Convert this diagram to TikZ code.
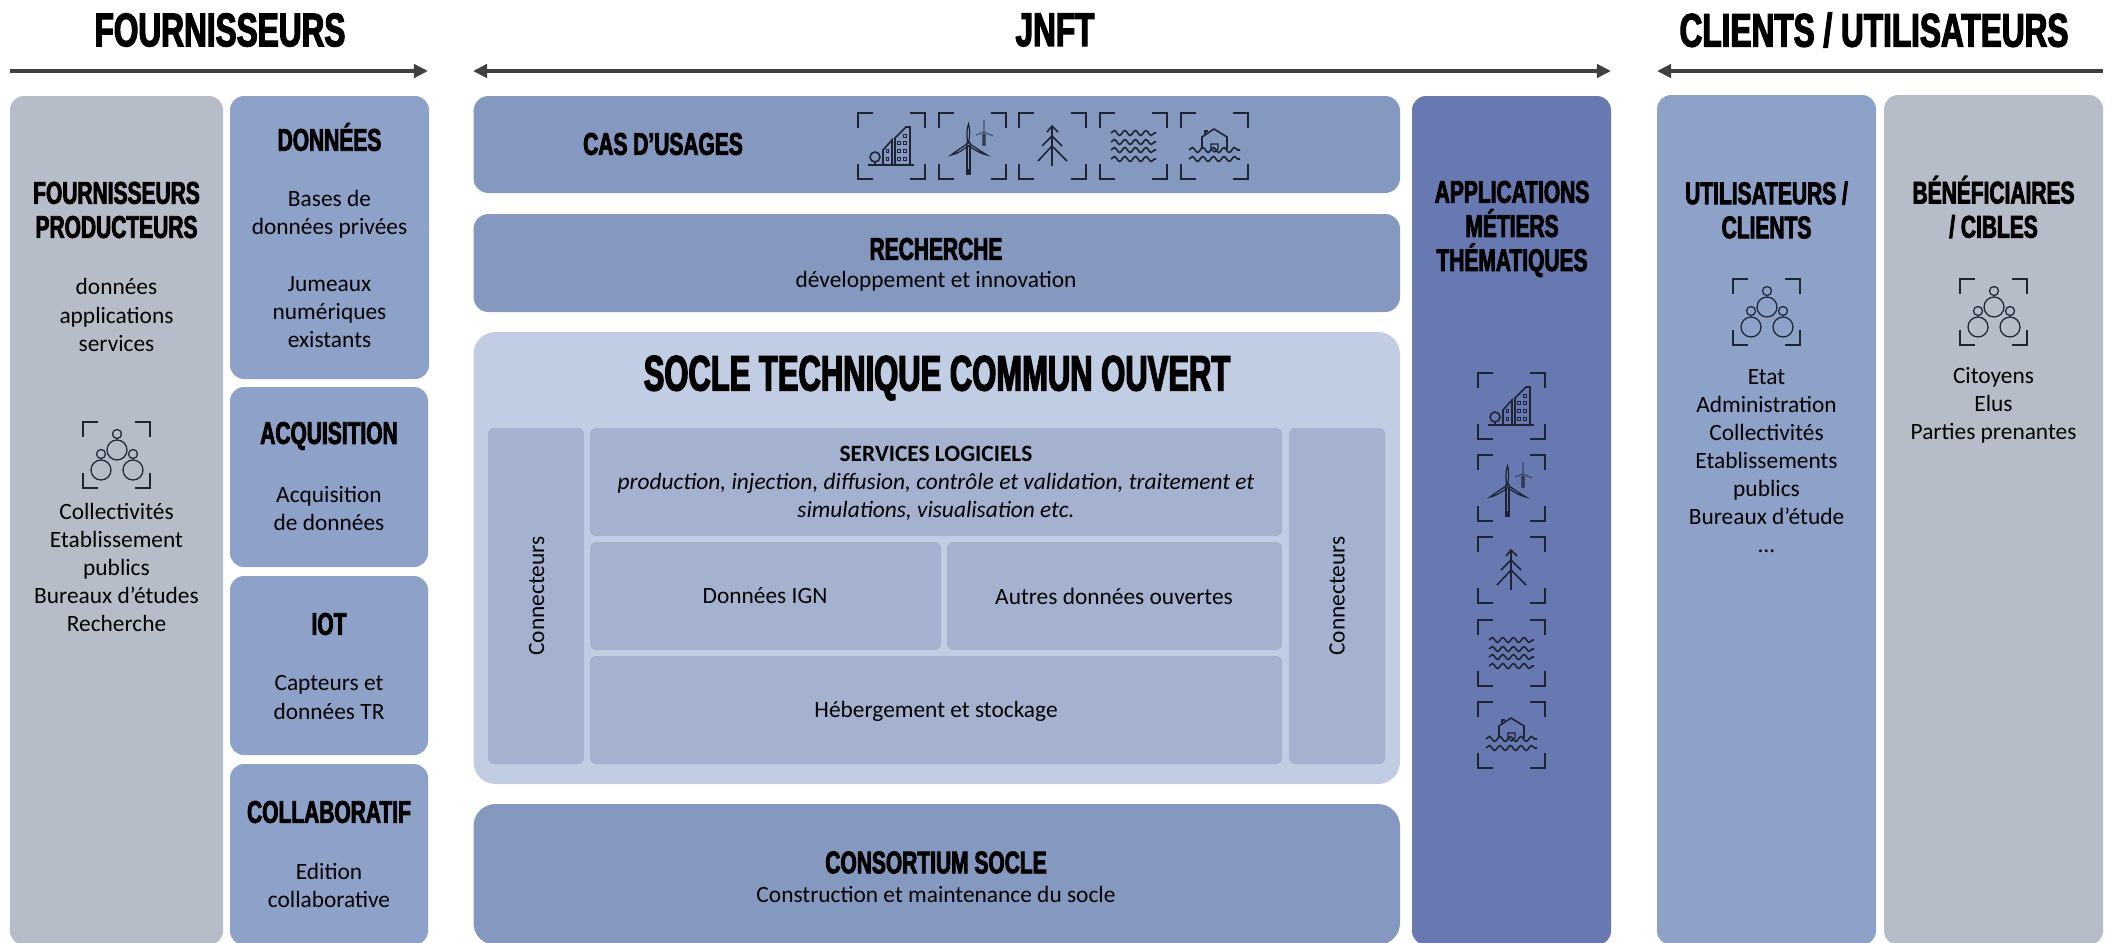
\documentclass[tikz,border=0pt]{standalone}
\usepackage{fontspec}
\setmainfont{Carlito}
\newfontfamily\headfont{Liberation Sans}[FakeStretch=0.67,BoldFeatures={FakeBold=2.6}]
\newfontfamily\titlefont{Liberation Sans}[FakeStretch=0.62,BoldFeatures={FakeBold=2.6}]
\usetikzlibrary{arrows.meta}
\usetikzlibrary{decorations.pathmorphing}

\definecolor{greypanel}{HTML}{B6BDC9}
\definecolor{bluepanel}{HTML}{8EA2C9}
\definecolor{midpanel}{HTML}{8598BF}
\definecolor{soclepanel}{HTML}{C1CDE2}
\definecolor{innerpanel}{HTML}{A4B2D0}
\definecolor{apppanel}{HTML}{6879B2}
\definecolor{inkline}{HTML}{1E2433}

\tikzset{
	bigpanel/.style = {rounded corners=0.14cm},
	smallpanel/.style = {rounded corners=0.06cm, fill=innerpanel},
	bighead/.style = {font=\headfont\bfseries\fontsize{13.4}{15}\selectfont, inner sep=0pt},
	midhead/.style = {font=\headfont\bfseries\fontsize{8.9}{9.7}\selectfont, align=center, inner sep=0pt},
	body/.style = {font=\fontsize{6.65}{8}\selectfont, align=center, inner sep=0pt},
	arrowline/.style = {draw=black!75, line width=1pt},
	arrowtip/.style = {-{Triangle[length=4pt,width=3.8pt]}},
	icon/.style = {draw=inkline, line width=0.35pt},
	waverow/.style = {decorate, decoration={snake, segment length=3pt, amplitude=0.7pt}},
	pics/framebox/.style = {code = {
		\draw[icon, line width=0.45pt] (15,0) -- (0,0) -- (0,15);
		\draw[icon, line width=0.45pt] (52,0) -- (67,0) -- (67,15);
		\draw[icon, line width=0.45pt] (0,51) -- (0,66) -- (15,66);
		\draw[icon, line width=0.45pt] (67,51) -- (67,66) -- (52,66);
	}},
	pics/people/.style = {code = {
		\pic {framebox};
		\draw[icon] (34,28) circle (10) (34,12) circle (4.5);
		\draw[icon] (18,48) circle (10) (18,32) circle (4.5);
		\draw[icon] (50,48) circle (10) (50,32) circle (4.5);
	}},
	pics/building/.style = {code = {
		\pic {framebox};
		\draw[icon, line width=0.45pt] (10,52) -- (56,52);
		\draw[icon, line width=0.45pt] (17,44) circle (5) (17,49) -- (17,52);
		\draw[icon, line width=0.45pt] (25,52) -- (25,37) -- (34,27) -- (34,52);
		\draw[icon, line width=0.45pt] (37,52) -- (37,25) -- (48,14) -- (52,14) -- (52,52);
		\foreach \wx/\wy in {29.5/38, 29.5/46, 41/30, 47/23, 47/30, 41/38, 47/38, 41/46, 47/46}
			\draw[icon, line width=0.3pt] (\wx-1.3,\wy-1.3) rectangle (\wx+1.3,\wy+1.3);
	}},
	pics/turbine/.style = {code = {
		\pic {framebox};
		\draw[icon] (28,33) -- (28,60) -- (31,60) -- (31,33);
		\draw[icon, fill=inkline] (28,57) rectangle (31,61);
		\draw[icon] (29,31) .. controls (27,22) and (28,15) .. (29.5,11) .. controls (31,15) and (31,22) .. (29.5,31);
		\draw[icon] (28,31) .. controls (22,35) and (16,39) .. (12,42) .. controls (18,41) and (24,37) .. (29,33);
		\draw[icon] (31,31) .. controls (37,35) and (43,39) .. (48,42) .. controls (42,41) and (36,37) .. (30,33);
		\draw[icon] (29.5,31) circle (2);
		\draw[icon, opacity=0.6] (45,7) -- (45,32) (37,22) -- (45,19) -- (54,23);
		\draw[icon, opacity=0.6] (44,21) -- (44,32) -- (46,32) -- (46,21);
	}},
	pics/pinetree/.style = {code = {
		\pic {framebox};
		\draw[icon, line width=0.45pt] (33,13) -- (33,53);
		\draw[icon, line width=0.45pt] (28,19) -- (33,13) -- (39,19);
		\draw[icon, line width=0.45pt] (23,33) -- (33,23) -- (43,33);
		\draw[icon, line width=0.45pt] (19,48) -- (33,33) -- (48,48);
	}},
	pics/waves/.style = {code = {
		\pic {framebox};
		\foreach \wy in {20,29,37,46}
			\draw[icon, line width=0.45pt, waverow] (11,\wy) -- (56,\wy);
	}},
	pics/flood/.style = {code = {
		\pic {framebox};
		\draw[icon, line width=0.45pt] (21,36) -- (21,24) -- (33,16) -- (46,24) -- (46,36);
		\draw[icon] (24,21) -- (24,18) -- (27,18);
		\draw[icon] (30,31) -- (37,31) -- (37,36) -- (33.5,39) -- (30,36) -- cycle;
		\draw[icon, line width=0.45pt, waverow] (8,37) -- (59,37);
		\draw[icon, line width=0.45pt, waverow] (8,46) -- (59,46);
	}},
}

\begin{document}
\begin{tikzpicture}[x=0.01cm, y=-0.01cm]
	\clip (0,0) rectangle (2118,942);

	% top titles and arrows
	\node[bighead] (titlefourn) at (220,30) {FOURNISSEURS};
	\node[bighead] (titlejnft) at (1055,30) {JNFT};
	\node[bighead] (titleclients) at (1874,30) {CLIENTS / UTILISATEURS};
	\coordinate (fournA) at (10,71);
	\coordinate (fournB) at (428,71);
	\coordinate (jnftA) at (473,71);
	\coordinate (jnftB) at (1611,71);
	\coordinate (clientsA) at (2103,71);
	\coordinate (clientsB) at (1657,71);
	\draw[arrowline, arrowtip] (fournA) -- (fournB);
	\draw[arrowline, {Triangle[length=4pt,width=3.8pt]}-{Triangle[length=4pt,width=3.8pt]}] (jnftA) -- (jnftB);
	\draw[arrowline, arrowtip] (clientsA) -- (clientsB);

	% suppliers
	\fill[bigpanel, greypanel] (10,96) rectangle (223,945);
	\fill[bigpanel, bluepanel] (230,96) rectangle (429,379);
	\fill[bigpanel, bluepanel] (230,387) rectangle (428,567);
	\fill[bigpanel, bluepanel] (230,576) rectangle (428,755);
	\fill[bigpanel, bluepanel] (230,764) rectangle (428,945);

	\node[midhead] (producteurs) at (116.5,210) {FOURNISSEURS\\PRODUCTEURS};
	\node[body] (fournlist) at (116.5,315) {données\\applications\\services};
	\pic at (83,422) {people};
	\node[body] (fourntypes) at (116.5,567.5) {Collectivités\\Etablissement\\publics\\Bureaux d’études\\Recherche};

	\node[midhead] (donnees) at (329.5,137) {DONNÉES};
	\node[body] (basesdonnees) at (329.5,214) {Bases de\\données privées};
	\node[body] (jumeaux) at (329.5,312) {Jumeaux\\numériques\\existants};
	\node[midhead] (acquisition) at (329,436) {ACQUISITION};
	\node[body] (acquitext) at (329,508.5) {Acquisition\\de données};
	\node[midhead] (iot) at (329,624) {IOT};
	\node[body] (iottext) at (329,697.5) {Capteurs et\\données TR};
	\node[midhead] (collab) at (329,812) {COLLABORATIF};
	\node[body] (collabtext) at (329,885.5) {Edition\\collaborative};

	% middle column
	\fill[bigpanel, rounded corners=0.15cm, midpanel] (473.5,96) rectangle (1400,193);
	\node[midhead] (casusages) at (663,144) {CAS D’USAGES};
	\pic at (858,113) {building};
	\pic at (939,113) {turbine};
	\pic at (1019,113) {pinetree};
	\pic at (1100,113) {waves};
	\pic at (1181,113) {flood};

	\fill[bigpanel, rounded corners=0.15cm, midpanel] (473.5,214) rectangle (1400,312);
	\node[midhead] (recherche) at (936,249) {RECHERCHE};
	\node[body] (recherchetext) at (936,281.5) {développement et innovation};

	\fill[rounded corners=0.22cm, soclepanel] (473.5,332) rectangle (1400,784);
	\node[bighead, font=\titlefont\bfseries\fontsize{14.2}{16}\selectfont] (socle) at (937,378) {SOCLE TECHNIQUE COMMUN OUVERT};
	\fill[smallpanel] (488,428) rectangle (584,764);
	\fill[smallpanel] (590,428) rectangle (1282,536);
	\fill[smallpanel] (590,542) rectangle (941,650);
	\fill[smallpanel] (947,542) rectangle (1282,650);
	\fill[smallpanel] (590,656) rectangle (1282,764);
	\fill[smallpanel] (1289,428) rectangle (1385,764);
	\node[body, rotate=90] (connleft) at (536.5,596) {Connecteurs};
	\node[body, rotate=90] (connright) at (1337,596) {Connecteurs};
	\node[body] (services) at (936,483.5) {\textbf{SERVICES LOGICIELS}\\\textit{production, injection, diffusion, contrôle et validation, traitement et}\\\textit{simulations, visualisation etc.}};
	\node[body] (ign) at (765,596) {Données IGN};
	\node[body] (autres) at (1114,596) {Autres données ouvertes};
	\node[body] (hebergement) at (936,711) {Hébergement et stockage};

	\fill[rounded corners=0.22cm, midpanel] (473.5,804) rectangle (1400,945);
	\node[midhead] (consortium) at (936,862.5) {CONSORTIUM SOCLE};
	\node[body] (consortext) at (936,894) {Construction et maintenance du socle};

	% applications column
	\fill[bigpanel, apppanel] (1412,96) rectangle (1611,945);
	\node[midhead] (applications) at (1512,229) {APPLICATIONS\\MÉTIERS\\THÉMATIQUES};
	\pic at (1478,373) {building};
	\pic at (1478,455) {turbine};
	\pic at (1478,537) {pinetree};
	\pic at (1478,620) {waves};
	\pic at (1478,702) {flood};

	% clients
	\fill[bigpanel, bluepanel] (1657,95) rectangle (1876,945);
	\fill[bigpanel, greypanel] (1884,95) rectangle (2103,945);
	\node[midhead] (utilisateurs) at (1766.5,210) {UTILISATEURS /\\CLIENTS};
	\node[midhead] (beneficiaires) at (1993.5,207) {BÉNÉFICIAIRES\\/ CIBLES};
	\pic at (1733,279) {people};
	\pic at (1960,279) {people};
	\node[body] (clientslist) at (1766.5,461) {Etat\\Administration\\Collectivités\\Etablissements\\publics\\Bureaux d’étude\\…};
	\node[body] (cibleslist) at (1993.5,405) {Citoyens\\Elus\\Parties prenantes};
\end{tikzpicture}
\end{document}
